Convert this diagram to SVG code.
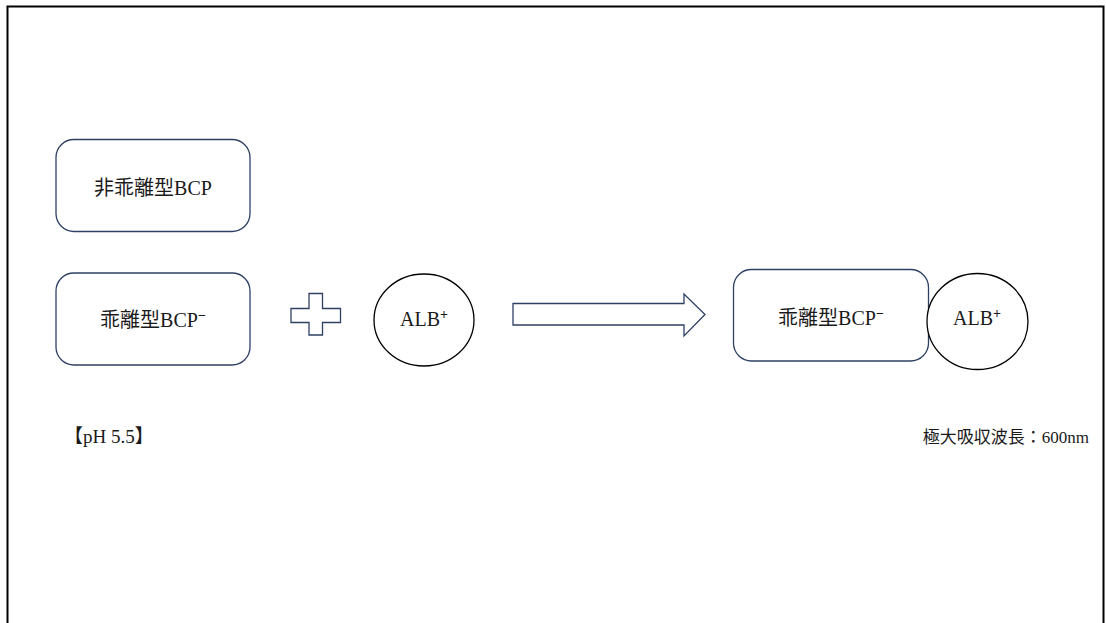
<svg xmlns="http://www.w3.org/2000/svg" width="1106" height="623" viewBox="0 0 1106 623">
<style>
.box{fill:#fff;stroke:#2f4065;stroke-width:1.3}
.circ{fill:#fff;stroke:#000;stroke-width:1.3}
.shape{fill:#fff;stroke:#2f4065;stroke-width:1.3}
.t{font-family:"Liberation Serif","Noto Sans CJK JP",serif;font-size:20px;fill:#1a1a1a}
.sup{font-size:14px;font-weight:bold}
.s{font-family:"Liberation Serif","Noto Sans CJK JP",serif;font-size:17px;fill:#1a1a1a}
.p{font-size:19px}
</style>
<rect x="0" y="0" width="1106" height="623" fill="#fff"/>
<path d="M7.5,623 V6.5 H1103.5 V623" fill="none" stroke="#000" stroke-width="2"/>
<g id="node-nonionized">
<rect class="box" x="56" y="139.5" width="194" height="92" rx="18"/>
<text class="t" x="153" y="195" text-anchor="middle">非乖離型BCP</text>
</g>
<g id="node-ionized">
<rect class="box" x="56" y="273" width="194" height="92" rx="18"/>
<text class="t" x="153" y="327" text-anchor="middle">乖離型BCP<tspan class="sup" dy="-7">−</tspan></text>
</g>
<g id="node-plus">
<path class="shape" d="M309,293.5 H322.5 V308.5 H340.5 V322.5 H322.5 V335 H309 V322.5 H291 V308.5 H309 Z"/>
</g>
<g id="node-alb">
<ellipse class="circ" cx="424" cy="320" rx="50" ry="46"/>
<text class="t" x="424" y="326" text-anchor="middle">ALB<tspan class="sup" dy="-7">+</tspan></text>
</g>
<g id="connectors">
<path class="shape" d="M513,303.5 H684 V294 L705,314.5 L684,336 V325 H513 Z"/>
</g>
<g id="node-complex">
<rect class="box" x="733.5" y="269.5" width="195" height="91.5" rx="18"/>
<text class="t" x="831" y="325" text-anchor="middle">乖離型BCP<tspan class="sup" dy="-7">−</tspan></text>
<ellipse class="circ" cx="977.5" cy="321.5" rx="50.5" ry="48"/>
<text class="t" x="977" y="325" text-anchor="middle">ALB<tspan class="sup" dy="-7">+</tspan></text>
</g>
<text class="s p" x="64" y="443">【pH 5.5】</text>
<text class="s" x="1089" y="443" text-anchor="end">極大吸収波長：600nm</text>
</svg>
